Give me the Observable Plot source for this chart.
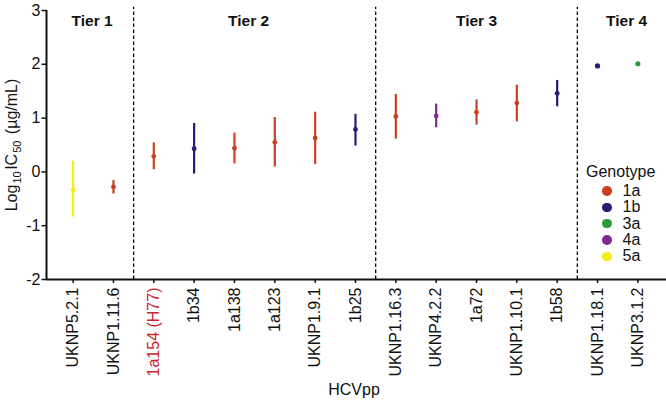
<!DOCTYPE html>
<html><head><meta charset="utf-8">
<script src="https://cdn.jsdelivr.net/npm/d3@7"></script>
<script src="https://cdn.jsdelivr.net/npm/@observablehq/plot@0.6"></script>
<style>
body{margin:0;background:#fff;font-family:Arial,"Liberation Sans",Helvetica,sans-serif}
#wrap{position:relative;width:666px;height:401px}
#wrap svg, #wrap svg text{font-family:Arial,"Liberation Sans",Helvetica,sans-serif}
#legend{position:absolute;left:586px;top:163px;font-size:16px;color:#111}
#legend .t{line-height:18px;margin-bottom:2px}
#legend .r{display:flex;align-items:center;height:16.3px}
#legend .d{width:9.5px;height:9.5px;border-radius:50%;margin-left:16px;margin-right:11px}
</style></head><body><div id="wrap"></div>
<script>
const categories = ["UKNP5.2.1","UKNP1.11.6","1a154 (H77)","1b34","1a138","1a123","UKNP1.9.1","1b25","UKNP1.16.3","UKNP4.2.2","1a72","UKNP1.10.1","1b58","UKNP1.18.1","UKNP3.1.2"];
const genotypes = ["5a","1a","1a","1b","1a","1a","1a","1b","1a","4a","1a","1a","1b","1b","3a"];
const centers = [-0.33,-0.28,0.29,0.43,0.44,0.55,0.63,0.79,1.03,1.04,1.11,1.28,1.46,1.97,2.01];
const lows =  [-0.84,-0.41,0.04,-0.04,0.15,0.09,0.14,0.48,0.61,0.82,0.87,0.93,1.21,null,null];
const highs = [0.20,-0.16,0.54,0.90,0.72,1.01,1.11,1.07,1.44,1.26,1.34,1.61,1.70,null,null];
const genotypeNames = ["1a","1b","3a","4a","5a"];
const genotypeColors = ["#c8401f","#211c74","#2f9a3c","#7b2d8e","#f6ec16"];
const tierNames = ["Tier 1","Tier 2","Tier 3","Tier 4"];
const tierCenters = [0.47,4.35,10,13.72];
const tierBreaks = [1.5,7.5,12.5];
const yTicks = [-2,-1,0,1,2,3];
const highlighted = "1a154 (H77)";

const rows = categories.map((c,i)=>({i, c, g: genotypes[i], v: centers[i], lo: lows[i], hi: highs[i]}));
const xDomain = [-0.66, 14.71];

const plot = Plot.plot({
  width: 666, height: 401,
  marginLeft: 46, marginRight: 0, marginTop: 10, marginBottom: 122,
  style: {fontFamily: "Arial, 'Liberation Sans', sans-serif", fontSize: "16px", color: "#111", background: "#fff"},
  x: {type: "linear", domain: xDomain},
  y: {domain: [-2, 3]},
  color: {type: "ordinal", domain: genotypeNames, range: genotypeColors},
  marks: [
    Plot.ruleX(tierBreaks, {y1: -2, y2: 3.06, stroke: "#000", strokeWidth: 1.3, strokeDasharray: "3.5,2.5"}),
    Plot.ruleX(rows.filter(d => d.lo != null), {x: "i", y1: "lo", y2: "hi", stroke: "g", strokeWidth: 2.2}),
    Plot.dot(rows.filter(d => d.lo != null), {x: "i", y: "v", fill: "g", r: 2.4}),
    Plot.dot(rows.filter(d => d.lo == null), {x: "i", y: "v", fill: "g", r: 2.6}),
    Plot.text(tierNames, {x: (d,i) => tierCenters[i], y: 2.81, text: d => d, fontWeight: "bold", fontSize: 15.5, fill: "#111"}),
    Plot.ruleY([-2], {stroke: "#111", strokeWidth: 2}),
    Plot.ruleX([xDomain[0]], {y1: -2, y2: 3, stroke: "#111", strokeWidth: 2}),
    Plot.axisY({ticks: yTicks, tickFormat: d => String(d), tickSize: 4.5, tickPadding: 1.5, fontSize: 16, label: null, strokeWidth: 1.5}),
    Plot.axisX({ticks: d3.range(categories.length), tickFormat: i => categories[i], tickRotate: -90, tickSize: 4, tickPadding: 4, fontSize: 16, label: null, strokeWidth: 1.5})
  ]
});

document.getElementById("wrap").appendChild(plot);
const svg = d3.select(plot);
svg.selectAll("text").filter(function(){ return this.textContent === highlighted; }).attr("fill", "#c8262c");

svg.append("text").attr("x", 354).attr("y", 395).attr("text-anchor", "middle")
  .attr("font-size", 16).attr("fill", "#111").text("HCVpp");

const yl = svg.append("text").attr("transform", "translate(16.5,145) rotate(-90)")
  .attr("text-anchor", "middle").attr("font-size", 16).attr("fill", "#111");
yl.append("tspan").text("Log");
yl.append("tspan").attr("font-size", 11).attr("dx", 1).attr("dy", 4).text("10");
yl.append("tspan").attr("dx", 1.5).attr("dy", -4).text("IC");
yl.append("tspan").attr("font-size", 11).attr("dx", 1).attr("dy", 4).text("50");
yl.append("tspan").attr("dx", 2).attr("dy", -4).text(" (µg/mL)");

const leg = document.createElement("div");
leg.id = "legend";
leg.innerHTML = '<div class="t">Genotype</div>' + genotypeNames.map((g,i) =>
  `<div class="r"><span class="d" style="background:${genotypeColors[i]}"></span><span>${g}</span></div>`).join("");
document.getElementById("wrap").appendChild(leg);
</script></body></html>
